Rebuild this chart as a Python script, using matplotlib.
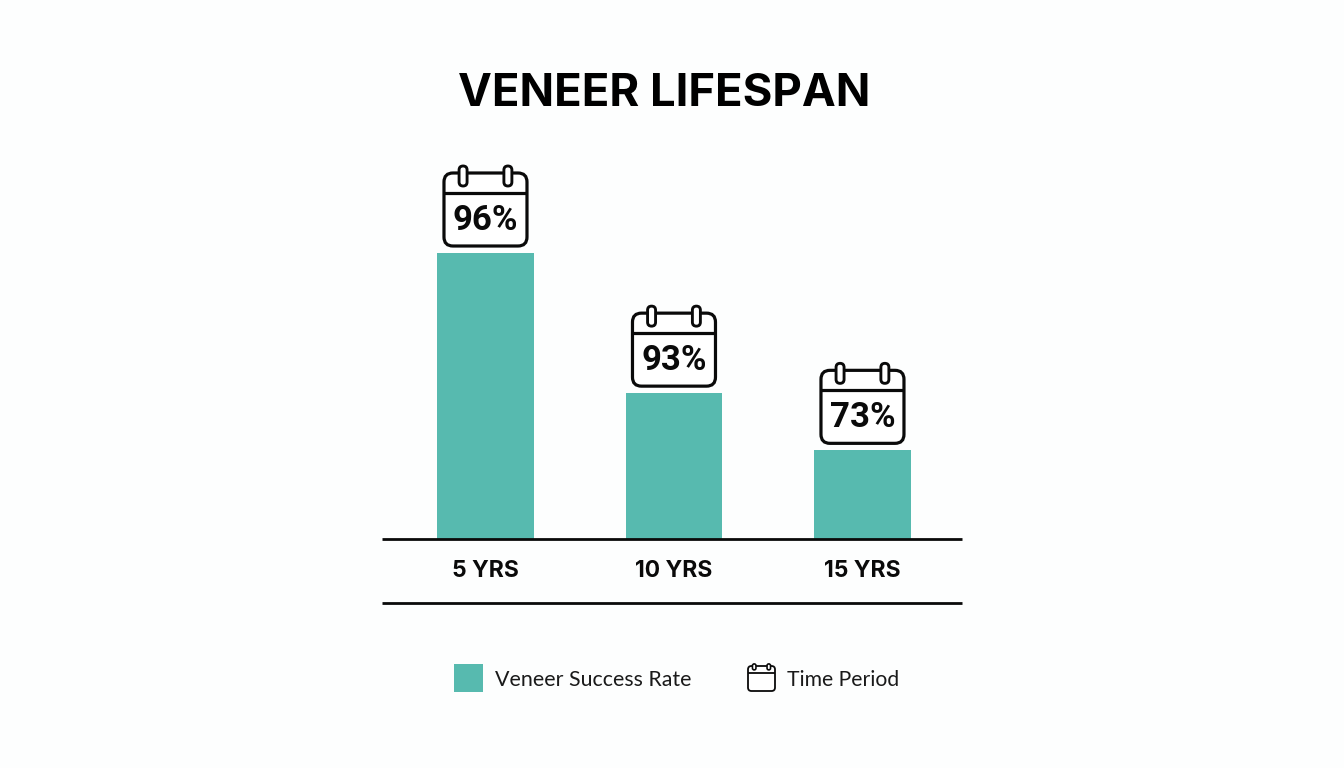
import matplotlib
matplotlib.use("Agg")
import matplotlib.pyplot as plt
from matplotlib.patches import FancyBboxPatch, Rectangle
from matplotlib.lines import Line2D
from matplotlib.transforms import Affine2D

categories = ["5 YRS", "10 YRS", "15 YRS"]
success_labels = ["96%", "93%", "73%"]
bar_heights = [100, 51, 31]
title = "VENEER LIFESPAN"
legend_labels = ["Veneer Success Rate", "Time Period"]

W, H = 1344, 768
TEAL = "#57BAAF"
BLACK = "#0A0A0A"
BG = "#FDFEFE"
FONT = "Inter"

fig = plt.figure(figsize=(W / 100, H / 100), dpi=100, facecolor=BG)
L, R, BASE, TOP = 382, 962, 539, 140
ax = fig.add_axes([L / W, 1 - BASE / H, (R - L) / W, (BASE - TOP) / H])
ax.set_facecolor("none")
ax.set_xlim(-0.549, 2.528)
ax.set_ylim(0, 399 / 2.86)
for s in ("top", "left", "right"):
    ax.spines[s].set_visible(False)
ax.spines["bottom"].set_linewidth(2.0)
ax.spines["bottom"].set_color(BLACK)
ax.spines["bottom"].set_capstyle("butt")
ax.set_yticks([])
ax.set_xticks(range(len(categories)))
ax.set_xticklabels(categories, fontsize=16.5, fontweight="bold", family=FONT, color=BLACK)
ax.tick_params(axis="x", length=0, pad=14.8)
bars = ax.bar(range(len(categories)), bar_heights, width=0.512, color=TEAL, linewidth=0)

px = Affine2D().scale(1, -1).translate(0, H)  # pixel coordinates, y down


def calendar(cx, top, w, h, ring_h, header, lw, ring_w, rad):
    """Draw a calendar icon whose body spans cx +- w/2 and top..top+h (pixels)."""
    fig.add_artist(FancyBboxPatch((cx - w / 2 + rad, top + rad), w - 2 * rad, h - 2 * rad,
                                  boxstyle=f"round,pad={rad},rounding_size={rad}",
                                  fc="white", ec=BLACK, lw=lw, transform=px))
    fig.add_artist(Line2D([cx - w / 2, cx + w / 2], [top + header] * 2, color=BLACK, lw=lw,
                          solid_capstyle="butt", transform=px))
    for dx in (-0.27 * w, 0.27 * w):
        r = ring_w / 2
        fig.add_artist(FancyBboxPatch((cx + dx - r + r * 0.5, top - ring_h * 0.35 + r * 0.5),
                                      ring_w - r, ring_h - r,
                                      boxstyle=f"round,pad={r * 0.5},rounding_size={r}",
                                      fc="white", ec=BLACK, lw=lw * 0.9, transform=px))


for rect, label in zip(bars, success_labels):
    x, y = ax.transData.transform((rect.get_x() + rect.get_width() / 2, rect.get_height()))
    cx, bar_top = x, H - y
    top = bar_top - 80
    calendar(cx, top, 83, 73, 20, 20, 2.3, 8, 9)
    fig.text(cx / W, 1 - (top + 47.5) / H, label, ha="center", va="center",
             fontsize=25, fontweight="bold", family="Roboto", color=BLACK)

fig.add_artist(Line2D([L / W, R / W], [1 - 603 / H] * 2, color=BLACK, lw=2.0, solid_capstyle="butt"))

fig.text(664.5 / W, 1 - 94 / H, title, ha="center", va="center", fontsize=32.7,
         fontweight="bold", family=FONT, color="black")

fig.add_artist(Rectangle((454, 664), 29, 28, fc=TEAL, ec="none", transform=px))
fig.text(495 / W, 1 - 679.5 / H, legend_labels[0], ha="left", va="center", fontsize=15.4,
         family="Lato", color="#1A1A1A")
calendar(761.5, 666, 27, 25, 6, 7, 1.3, 3.5, 3.5)
fig.text(787 / W, 1 - 679.5 / H, legend_labels[1], ha="left", va="center", fontsize=15.2,
         family="Lato", color="#1A1A1A")

fig.savefig("out.png", dpi=100, facecolor=BG)
